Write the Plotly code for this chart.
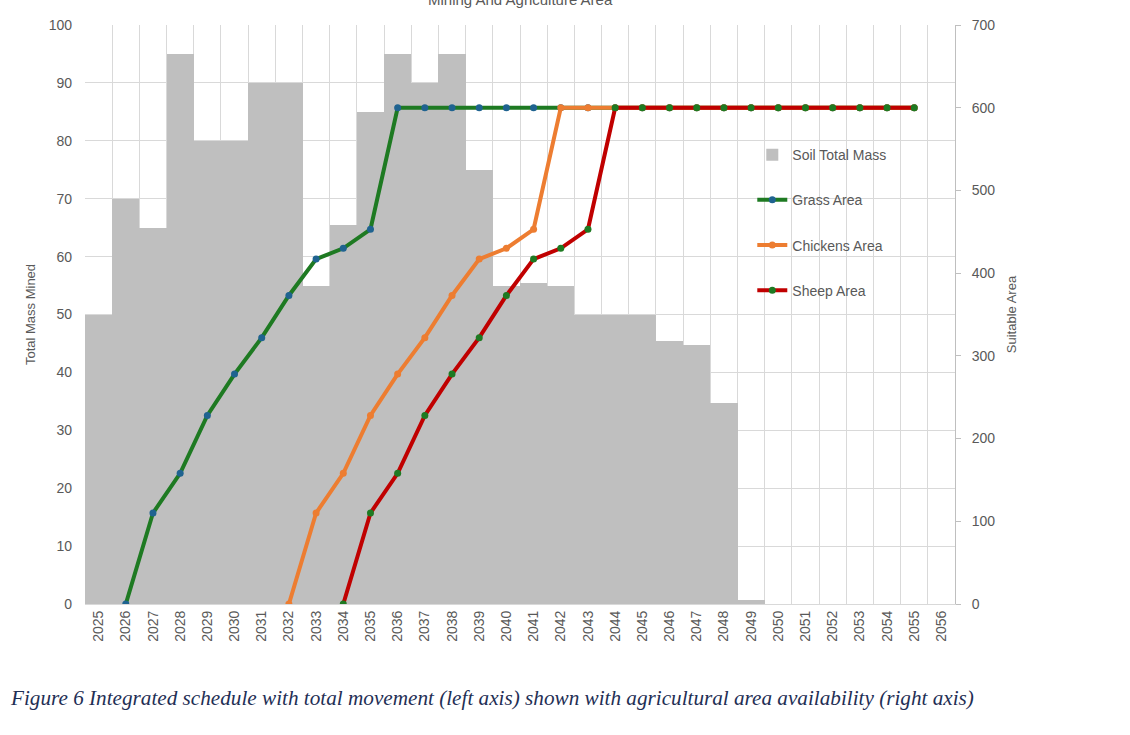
import plotly.graph_objects as go

years = [str(y) for y in range(2025, 2057)]
soil_mass = [50, 70, 65, 95, 80, 80, 90, 90, 55, 65.5, 85, 95, 90, 95, 75, 55,
             55.5, 55, 50, 50, 50, 45.5, 44.8, 34.8, 0.7, 0, 0, 0, 0, 0, 0, 0]

line_years = [str(y) for y in range(2026, 2056)]
ramp = [0, 110, 158, 228, 278, 322, 373, 417, 430, 453]
grass_area = ramp + [600] * 20
chickens_area = [None] * 6 + ramp + [600] * 14
sheep_area = [None] * 8 + ramp + [600] * 12

TXT = "#595959"
GRID = "#d9d9d9"

fig = go.Figure()
fig.add_trace(go.Bar(x=years, y=soil_mass, name="Soil Total Mass",
                     marker=dict(color="#bfbfbf", line=dict(width=0)),
                     legendgroup="a"))
fig.add_trace(go.Scatter(x=line_years, y=grass_area, name="Grass Area", yaxis="y2",
                         mode="lines+markers", line=dict(color="#1e7a22", width=4),
                         marker=dict(color="#1f6390", size=7), legendgroup="b"))
fig.add_trace(go.Scatter(x=line_years, y=chickens_area, name="Chickens Area", yaxis="y2",
                         mode="lines+markers", line=dict(color="#ed7d31", width=4),
                         marker=dict(color="#ed7d31", size=7), legendgroup="c"))
fig.add_trace(go.Scatter(x=line_years, y=sheep_area, name="Sheep Area", yaxis="y2",
                         mode="lines+markers", line=dict(color="#c00000", width=4),
                         marker=dict(color="#1e7a22", size=7), legendgroup="d"))

fig.add_shape(type="rect", xref="paper", yref="paper", x0=0.724, x1=0.954,
              y0=0.499, y1=0.815, fillcolor="white", line=dict(width=0), layer="between")

fig.add_annotation(text="Mining And Agriculture Area", xref="paper", yref="paper",
                   x=0.5, y=1.026, yanchor="bottom", showarrow=False,
                   font=dict(size=15, color=TXT, family="Liberation Sans"))
fig.add_annotation(text="<i>Figure 6 Integrated schedule with total movement (left axis) shown with agricultural area availability (right axis)</i>",
                   xref="paper", yref="paper", x=-0.088, y=-0.163, xanchor="left", yanchor="middle",
                   showarrow=False,
                   font=dict(size=21.2, color="#1f2f55", family="Liberation Serif"))

fig.update_layout(
    width=1130, height=735,
    margin=dict(l=85, r=175, t=25, b=131),
    paper_bgcolor="white", plot_bgcolor="white",
    bargap=0,
    font=dict(family="Liberation Sans", color=TXT, size=13),
    showlegend=True,
    legend=dict(x=0.767, y=0.803, xanchor="left", yanchor="top",
                bgcolor="rgba(0,0,0,0)", font=dict(size=14, color=TXT),
                tracegroupgap=24, traceorder="grouped"),
    xaxis=dict(type="category", categoryorder="array", categoryarray=years,
               tickson="boundaries", showgrid=True, gridcolor=GRID, gridwidth=1,
               tickangle=-90, ticks="", showline=True, linecolor=GRID,
               tickfont=dict(size=14, color=TXT), range=[-0.5, 31.5]),
    yaxis=dict(range=[0, 100], dtick=10, showgrid=True, gridcolor=GRID,
               zeroline=False, showline=False, ticks="", ticklabelstandoff=12,
               tickfont=dict(size=14, color=TXT),
               title=dict(text="Total Mass Mined", font=dict(size=13, color=TXT), standoff=10)),
    yaxis2=dict(range=[0, 700], dtick=100, overlaying="y", side="right", showgrid=False,
                zeroline=False, showline=True, linecolor="#bfbfbf", ticks="outside",
                ticklen=5, tickcolor="#bfbfbf", tickfont=dict(size=14, color=TXT),
                ticklabelstandoff=8,
                title=dict(text="Suitable Area", font=dict(size=13, color=TXT), standoff=12)),
)

fig.write_html("out.html")
